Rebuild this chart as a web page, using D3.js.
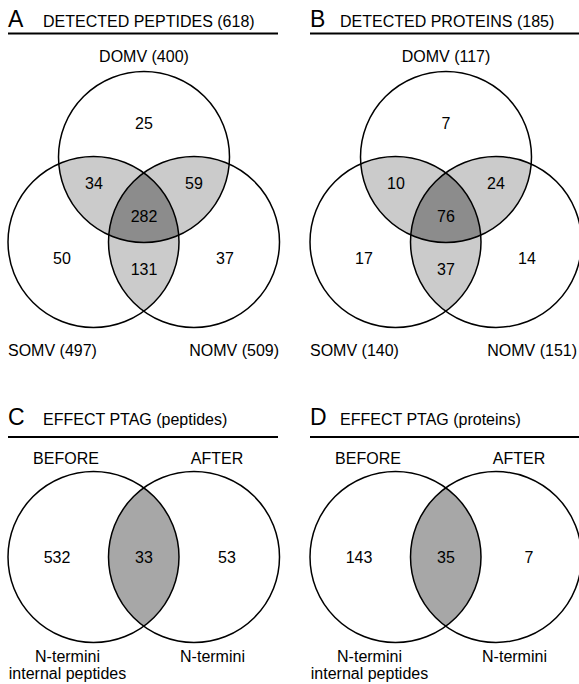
<!DOCTYPE html>
<html>
<head>
<meta charset="utf-8">
<script src="https://cdn.jsdelivr.net/npm/d3@7"></script>
<style>
  html, body { margin: 0; padding: 0; background: #fff; }
  svg { display: block; font-family: "Liberation Sans", Arial, Helvetica, sans-serif; }
</style>
</head>
<body>
<svg id="chart" width="579" height="684"></svg>
<script>
// Panel letters and headings
const panelLetters = ["A", "B", "C", "D"];
const panelHeadings = ["DETECTED PEPTIDES", "DETECTED PROTEINS", "EFFECT PTAG (peptides)", "EFFECT PTAG (proteins)"];

// Three-set comparison (DOMV / SOMV / NOMV)
const threeSetNames = ["DOMV", "SOMV", "NOMV"];
// region order: D only, D∩S, D∩N, D∩S∩N, S only, N only, S∩N
const regionKeys = ["D", "DS", "DN", "DSN", "S", "N", "SN"];
const peptideCounts = [25, 34, 59, 282, 50, 37, 131];
const proteinCounts = [7, 10, 24, 76, 17, 14, 37];

// Two-set comparison (before / after PTAG)
const twoSetNames = ["BEFORE", "AFTER"];
const twoSetCaptions = [["N-termini", "internal peptides"], ["N-termini"]];
const ptagPeptideCounts = [532, 33, 53];
const ptagProteinCounts = [143, 35, 7];

const svg = d3.select("#chart");
const WIDTH = 579;
const FONT = 16;
const fillPair = "#cbcbcb", fillTriple = "#8c8c8c", fillLens = "#a7a7a7";

// Horizontal placement of left / right panel columns
const col = d3.scaleOrdinal().domain([0, 1]).range([0, 302]);
// Heading text start inside each column
const headingX = d3.scaleOrdinal().domain([0, 1]).range([43, 38]);

const R = 85.5;
let clipId = 0;

function heading(g, column, letter, text, baseY, lineY) {
  g.append("text").attr("x", 8).attr("y", baseY)
    .attr("font-size", 23).attr("fill", "#000").text(letter);
  g.append("text").attr("x", headingX(column)).attr("y", baseY)
    .attr("font-size", FONT).attr("fill", "#000").text(text);
  g.append("line").attr("x1", 8).attr("x2", 278).attr("y1", lineY).attr("y2", lineY)
    .attr("stroke", "#000").attr("stroke-width", 2);
}

function makeClip(g, c) {
  const id = "clip" + (clipId++);
  g.append("clipPath").attr("id", id).append("circle")
    .attr("cx", c.x).attr("cy", c.y).attr("r", c.r);
  return "url(#" + id + ")";
}

function threeSet(panelIndex, counts) {
  const column = panelIndex % 2;
  const ox = col(column);
  const g = svg.append("g").attr("transform", `translate(${ox},0)`);
  const sum = keys => keys.reduce((s, k) => s + counts[regionKeys.indexOf(k)], 0);
  const totals = [
    sum(["D", "DS", "DN", "DSN"]),
    sum(["S", "DS", "SN", "DSN"]),
    sum(["N", "DN", "SN", "DSN"])
  ];
  const grand = d3.sum(counts);
  heading(g, column, panelLetters[panelIndex], `${panelHeadings[panelIndex]} (${grand})`, 27, 33.5);

  const circles = [
    { x: 144, y: 157, r: R },
    { x: 93.5, y: 242, r: R },
    { x: 194, y: 242, r: R }
  ];
  const clips = circles.map(c => makeClip(g, c));

  // pairwise overlaps
  [[0, 1], [0, 2], [1, 2]].forEach(([i, j]) => {
    g.append("g").attr("clip-path", clips[i])
      .append("circle").attr("cx", circles[j].x).attr("cy", circles[j].y).attr("r", R)
      .attr("fill", fillPair);
  });
  // triple overlap
  g.append("g").attr("clip-path", clips[0])
    .append("g").attr("clip-path", clips[1])
    .append("circle").attr("cx", circles[2].x).attr("cy", circles[2].y).attr("r", R)
    .attr("fill", fillTriple);

  g.selectAll("circle.outline").data(circles).join("circle")
    .attr("class", "outline")
    .attr("cx", d => d.x).attr("cy", d => d.y).attr("r", d => d.r)
    .attr("fill", "none").attr("stroke", "#000").attr("stroke-width", 1.5);

  // region count positions
  const pos = {
    D: [144, 129], DS: [94, 189], DN: [194, 189], DSN: [144, 222],
    S: [62, 264], N: [225, 264], SN: [144, 275]
  };
  g.selectAll("text.count").data(regionKeys).join("text")
    .attr("class", "count")
    .attr("x", k => pos[k][0]).attr("y", k => pos[k][1])
    .attr("text-anchor", "middle").attr("font-size", FONT)
    .text(k => counts[regionKeys.indexOf(k)]);

  g.append("text").attr("x", 144).attr("y", 61.5).attr("text-anchor", "middle")
    .attr("font-size", FONT).text(`${threeSetNames[0]} (${totals[0]})`);
  g.append("text").attr("x", 8).attr("y", 356).attr("text-anchor", "start")
    .attr("font-size", FONT).text(`${threeSetNames[1]} (${totals[1]})`);
  // keep the right-hand label inside the canvas
  g.append("text").attr("x", Math.min(279, WIDTH - 2 - ox)).attr("y", 356).attr("text-anchor", "end")
    .attr("font-size", FONT).text(`${threeSetNames[2]} (${totals[2]})`);
}

function twoSet(panelIndex, counts) {
  const column = panelIndex % 2;
  const g = svg.append("g").attr("transform", `translate(${col(column)},0)`);
  heading(g, column, panelLetters[panelIndex], panelHeadings[panelIndex], 425, 437);

  const circles = [
    { x: 93.5, y: 557, r: R },
    { x: 194, y: 557, r: R }
  ];
  const clips = circles.map(c => makeClip(g, c));
  g.append("g").attr("clip-path", clips[0])
    .append("circle").attr("cx", circles[1].x).attr("cy", circles[1].y).attr("r", R)
    .attr("fill", fillLens);

  g.selectAll("circle.outline").data(circles).join("circle")
    .attr("class", "outline")
    .attr("cx", d => d.x).attr("cy", d => d.y).attr("r", d => d.r)
    .attr("fill", "none").attr("stroke", "#000").attr("stroke-width", 1.5);

  const countX = [57, 144, 227];
  g.selectAll("text.count").data(counts).join("text")
    .attr("class", "count")
    .attr("x", (d, i) => countX[i]).attr("y", 563)
    .attr("text-anchor", "middle").attr("font-size", FONT).text(d => d);

  const nameX = [66, 217];
  g.selectAll("text.setname").data(twoSetNames).join("text")
    .attr("class", "setname")
    .attr("x", (d, i) => nameX[i]).attr("y", 464)
    .attr("text-anchor", "middle").attr("font-size", FONT).text(d => d);

  const capX = [67.5, 212.5];
  twoSetCaptions.forEach((lines, i) => {
    lines.forEach((line, j) => {
      g.append("text").attr("x", capX[i]).attr("y", 661.5 + j * 17.5)
        .attr("text-anchor", "middle").attr("font-size", FONT).text(line);
    });
  });
}

threeSet(0, peptideCounts);
threeSet(1, proteinCounts);
twoSet(2, ptagPeptideCounts);
twoSet(3, ptagProteinCounts);
</script>
</body>
</html>
